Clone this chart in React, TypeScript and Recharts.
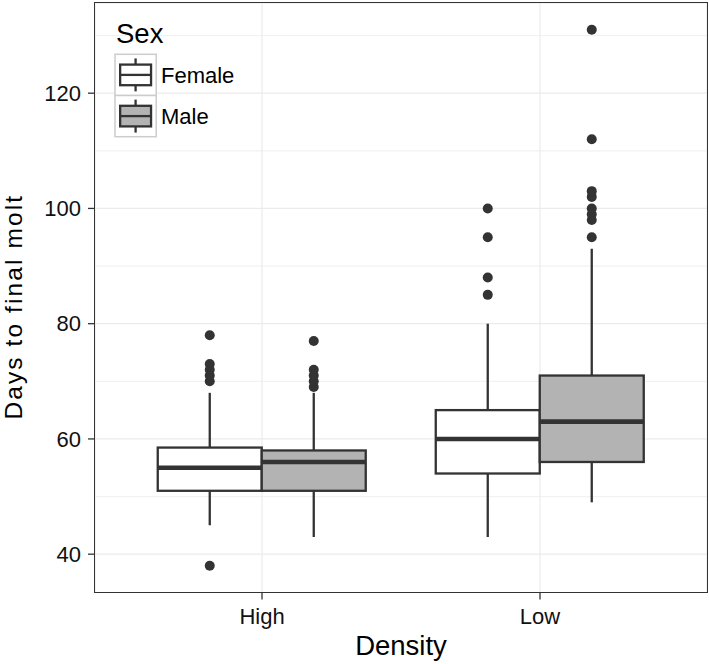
import { Bar, CartesianGrid, ComposedChart, Legend, XAxis, YAxis } from "recharts";

const densities = ["High", "Low"];
const sexes = ["Female", "Male"];
const sexFills = ["#FFFFFF", "#B3B3B3"];

const femaleLower = [45, 43];
const femaleQ1 = [51, 54];
const femaleMedian = [55, 60];
const femaleQ3 = [58.5, 65];
const femaleUpper = [68, 80];
const femaleOutliers = [[38, 70, 71, 72, 73, 78], [85, 88, 95, 100]];

const maleLower = [43, 49];
const maleQ1 = [51, 56];
const maleMedian = [56, 63];
const maleQ3 = [58, 71];
const maleUpper = [68, 93];
const maleOutliers = [[69, 70, 71, 72, 77], [95, 98, 99, 100, 102, 103, 112, 131]];

const yTicks = [40, 60, 80, 100, 120];
const yMinor = [50, 70, 90, 110, 130];

const FONT = "'Liberation Sans', Arial, Helvetica, sans-serif";
const INK = "#333333";

interface BoxStats {
  lower: number;
  q1: number;
  median: number;
  q3: number;
  upper: number;
  outliers: number[];
}

const data = densities.map((d, i) => ({
  density: d,
  female: [femaleQ1[i], femaleQ3[i]],
  male: [maleQ1[i], maleQ3[i]],
  femaleStats: {
    lower: femaleLower[i], q1: femaleQ1[i], median: femaleMedian[i],
    q3: femaleQ3[i], upper: femaleUpper[i], outliers: femaleOutliers[i],
  },
  maleStats: {
    lower: maleLower[i], q1: maleQ1[i], median: maleMedian[i],
    q3: maleQ3[i], upper: maleUpper[i], outliers: maleOutliers[i],
  },
}));

// draws whiskers, median and outliers from the bar's own scaled box
function BoxShape(props: any) {
  const { x, y, width, height, fill, stats } = props;
  const s = stats as BoxStats;
  const top = Math.min(y, y + height);
  const bottom = Math.max(y, y + height);
  const k = (bottom - top) / (s.q3 - s.q1);
  const py = (v: number) => bottom - (v - s.q1) * k;
  const cx = x + width / 2;
  return (
    <g>
      <line x1={cx} x2={cx} y1={py(s.upper)} y2={top} stroke={INK} strokeWidth={2.3} />
      <line x1={cx} x2={cx} y1={bottom} y2={py(s.lower)} stroke={INK} strokeWidth={2.3} />
      <rect x={x} y={top} width={width} height={bottom - top} fill={fill} stroke={INK} strokeWidth={2.3} />
      <line x1={x} x2={x + width} y1={py(s.median)} y2={py(s.median)} stroke={INK} strokeWidth={4.6} />
      {s.outliers.map((v, i) => (
        <circle key={i} cx={cx} cy={py(v)} r={5} fill={INK} />
      ))}
    </g>
  );
}

function SexLegend() {
  const k = 41.2;
  return (
    <svg width={280} height={145} style={{ display: "block" }}>
      <text x={116} y={43} fontSize={27.5} fontFamily={FONT} fill="#000">Sex</text>
      {sexes.map((s, i) => {
        const ky = 54.3 + i * k;
        const kx = 115;
        return (
          <g key={s}>
            <rect x={kx} y={ky} width={k} height={k} fill="#fff" stroke="#CCCCCC" strokeWidth={1.5} />
            <line x1={kx + k / 2} x2={kx + k / 2} y1={ky + 0.1 * k} y2={ky + 0.9 * k} stroke={INK} strokeWidth={2.3} />
            <rect x={kx + 0.125 * k} y={ky + 0.25 * k} width={0.75 * k} height={0.5 * k} fill={sexFills[i]} stroke={INK} strokeWidth={2.3} />
            <line x1={kx + 0.125 * k} x2={kx + 0.875 * k} y1={ky + k / 2} y2={ky + k / 2} stroke={INK} strokeWidth={2.3} />
            <text x={161} y={ky + k / 2 + 8} fontSize={22} fontFamily={FONT} fill="#000">{s}</text>
          </g>
        );
      })}
    </svg>
  );
}

export default function App() {
  return (
    <div style={{ position: "absolute", left: 0, top: 0, width: 709, height: 664, background: "#fff" }}>
      <ComposedChart
        width={709}
        height={664}
        data={data}
        margin={{ top: 3, right: 2, left: 0, bottom: 0 }}
        barCategoryGap="12.5%"
        barGap={0}
      >
        <CartesianGrid horizontalValues={yMinor} vertical={false} stroke="#F2F2F2" strokeWidth={1.2} />
        <CartesianGrid stroke="#EBEBEB" strokeWidth={1.2} />
        <XAxis
          dataKey="density"
          height={71.5}
          padding={{ left: 28, right: 28 }}
          axisLine={false}
          tickSize={7}
          tickMargin={9}
          tickLine={{ stroke: INK, strokeWidth: 1.3 }}
          tick={{ fill: "#111", fontSize: 22, fontFamily: FONT }}
          label={(p: any) => (
            <text
              x={p.viewBox.x + p.viewBox.width / 2}
              y={p.viewBox.y + 62.5}
              textAnchor="middle"
              fontSize={27.5}
              fontFamily={FONT}
              fill="#000"
            >
              Density
            </text>
          )}
        />
        <YAxis
          type="number"
          width={95}
          domain={[33.35, 135.65]}
          allowDataOverflow
          ticks={yTicks}
          axisLine={false}
          tickSize={7}
          tickMargin={7}
          tickLine={{ stroke: INK, strokeWidth: 1.3 }}
          tick={{ fill: "#111", fontSize: 22, fontFamily: FONT }}
          label={() => (
            <text
              x={22}
              y={306.7}
              transform="rotate(-90, 22, 306.7)"
              textAnchor="middle"
              fontSize={24.5}
              letterSpacing={2.1}
              fontFamily={FONT}
              fill="#000"
            >
              Days to final molt
            </text>
          )}
        />
        <Legend
          layout="horizontal"
          verticalAlign="middle"
          align="center"
          wrapperStyle={{ left: 0, top: 0, width: 280, height: 145 }}
          content={() => <SexLegend />}
        />
        <Bar
          dataKey="female"
          name="Female"
          fill={sexFills[0]}
          isAnimationActive={false}
          shape={(p: any) => <BoxShape {...p} stats={p.payload.femaleStats} />}
        />
        <Bar
          dataKey="male"
          name="Male"
          fill={sexFills[1]}
          isAnimationActive={false}
          shape={(p: any) => <BoxShape {...p} stats={p.payload.maleStats} />}
        />
      </ComposedChart>
      <div
        style={{
          position: "absolute",
          left: 94.25,
          top: 2.25,
          width: 613.5,
          height: 591,
          border: `1.5px solid ${INK}`,
          boxSizing: "border-box",
          pointerEvents: "none",
        }}
      />
    </div>
  );
}
